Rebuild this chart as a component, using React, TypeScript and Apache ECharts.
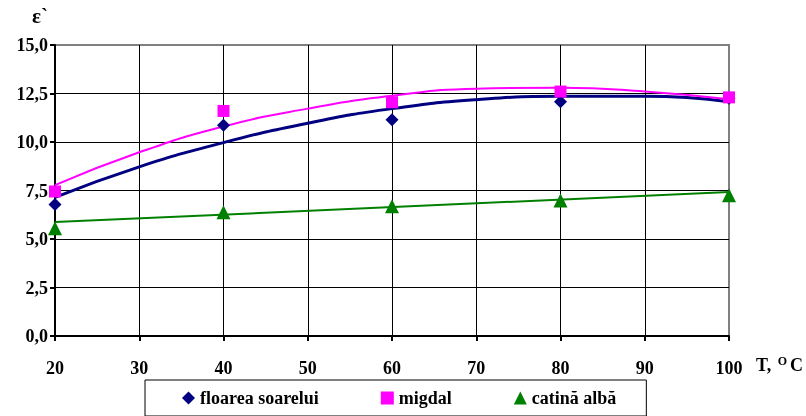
import React, { useEffect, useRef } from "react";
import * as echarts from "echarts";

const temps = [20, 40, 60, 80, 100];
const floarea = [6.78, 10.86, 11.15, 12.08, 12.26];
const migdal = [7.45, 11.6, 12.05, 12.6, 12.3];
const catina = [5.55, 6.38, 6.69, 6.98, 7.26];

const trendX = [20, 30, 40, 50, 60, 70, 80, 90, 100];
const floareaTrend = [7.15, 8.72, 9.97, 10.97, 11.72, 12.18, 12.36, 12.36, 12.08];
const migdalTrend = [7.78, 9.47, 10.8, 11.72, 12.38, 12.75, 12.8, 12.6, 12.2];
const catinaTrendX = [20, 100];
const catinaTrend = [5.87, 7.42];

const yTicks = ["0,0", "2,5", "5,0", "7,5", "10,0", "12,5", "15,0"];

const NAVY = "#000080";
const MAGENTA = "#FF00FF";
const GREEN = "#008000";
const FONT = "Liberation Serif";

export default function App() {
  const ref = useRef<HTMLDivElement>(null);
  useEffect(() => {
    if (!ref.current) return;
    const chart = echarts.init(ref.current, null, { renderer: "svg" });
    const pairs = (xs: number[], ys: number[]) => xs.map((x, i) => [x, ys[i]]);
    chart.setOption({
      animation: false,
      grid: {
        left: 55,
        right: 77,
        top: 45,
        bottom: 80,
        show: true,
        borderColor: "#808080",
        borderWidth: 2,
        backgroundColor: "transparent",
      },
      xAxis: {
        type: "value",
        min: 20,
        max: 100,
        interval: 10,
        axisLine: { lineStyle: { color: "#000", width: 2 } },
        axisTick: { show: true, length: 5, lineStyle: { color: "#000", width: 2 } },
        splitLine: {
          show: true,
          lineStyle: {
            color: ["#000", "#000", "#000", "#000", "#000", "#000", "#000", "#000", "#808080"],
            width: 1,
          },
        },
        axisLabel: {
          color: "#000",
          fontFamily: FONT,
          fontWeight: "bold",
          fontSize: 18,
          margin: 23,
        },
      },
      yAxis: {
        type: "value",
        min: 0,
        max: 15,
        interval: 2.5,
        axisLine: { show: true, lineStyle: { color: "#000", width: 2 } },
        axisTick: { show: true, length: 5, lineStyle: { color: "#000", width: 2 } },
        splitLine: {
          show: true,
          lineStyle: {
            color: ["#000", "#000", "#000", "#000", "#000", "#000", "#808080"],
            width: 1,
          },
        },
        axisLabel: {
          color: "#000",
          fontFamily: FONT,
          fontWeight: "bold",
          fontSize: 18,
          margin: 7,
          formatter: (v: number) => yTicks[Math.round(v / 2.5)] ?? "",
        },
      },
      legend: {
        data: [
          { name: "floarea soarelui", icon: "diamond" },
          { name: "migdal", icon: "rect" },
          { name: "catină albă", icon: "triangle" },
        ],
        left: 145,
        top: 380,
        itemWidth: 13,
        itemHeight: 13,
        itemGap: 62,
        padding: [9, 30, 9, 37],
        borderColor: "#000",
        borderWidth: 1,
        textStyle: {
          color: "#000",
          fontFamily: FONT,
          fontWeight: "bold",
          fontSize: 18,
        },
      },
      graphic: [
        {
          type: "text",
          left: 32,
          top: 5,
          style: {
            text: "ε`",
            fill: "#000",
            fontFamily: FONT,
            fontWeight: "bold",
            fontSize: 21,
          },
        },
        {
          type: "text",
          left: 756,
          top: 355,
          style: {
            text: "T, {sup|O}C",
            fill: "#000",
            fontFamily: FONT,
            fontWeight: "bold",
            fontSize: 18,
            rich: {
              sup: {
                fontSize: 12,
                fontWeight: "bold",
                fontFamily: FONT,
                verticalAlign: "top",
                padding: [0, 3, 8, 2],
              },
            },
          },
        },
      ],
      series: [
        {
          name: "floarea soarelui trend",
          type: "line",
          smooth: true,
          showSymbol: false,
          silent: true,
          data: pairs(trendX, floareaTrend),
          lineStyle: { color: NAVY, width: 3 },
          z: 3,
        },
        {
          name: "migdal trend",
          type: "line",
          smooth: true,
          showSymbol: false,
          silent: true,
          data: pairs(trendX, migdalTrend),
          lineStyle: { color: MAGENTA, width: 2 },
          z: 3,
        },
        {
          name: "catină albă trend",
          type: "line",
          showSymbol: false,
          silent: true,
          data: pairs(catinaTrendX, catinaTrend),
          lineStyle: { color: GREEN, width: 2 },
          z: 3,
        },
        {
          name: "floarea soarelui",
          type: "scatter",
          symbol: "diamond",
          symbolSize: 13,
          itemStyle: { color: NAVY, opacity: 1 },
          data: pairs(temps, floarea),
          z: 4,
        },
        {
          name: "migdal",
          type: "scatter",
          symbol: "rect",
          symbolSize: 12,
          itemStyle: { color: MAGENTA, opacity: 1 },
          data: pairs(temps, migdal),
          z: 4,
        },
        {
          name: "catină albă",
          type: "scatter",
          symbol: "triangle",
          symbolSize: 14,
          itemStyle: { color: GREEN, opacity: 1 },
          data: pairs(temps, catina),
          z: 4,
        },
      ],
    });
    return () => chart.dispose();
  }, []);
  return (
    <div
      ref={ref}
      style={{ position: "fixed", left: 0, top: 0, width: 806, height: 416 }}
    />
  );
}
